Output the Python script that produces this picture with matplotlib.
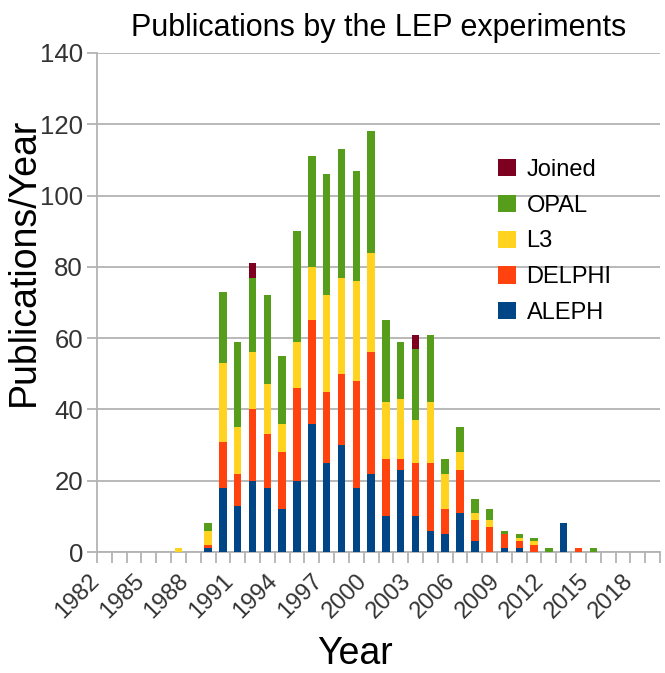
import matplotlib
matplotlib.use("Agg")
import matplotlib.pyplot as plt
import numpy as np
from matplotlib.ticker import MultipleLocator, FixedLocator

plt.rcParams['font.family'] = ['Liberation Sans', 'DejaVu Sans']

years = list(range(1982, 2020))
#            1982-1986      1987 ...                                                                                         ... 2019
aleph  = [0, 0, 0, 0, 0,  0, 0, 1, 18, 13, 20, 18, 12, 20, 36, 25, 30, 18, 22, 10, 23, 10, 6, 5, 11, 3, 0, 1, 1, 0, 0, 8, 0, 0, 0, 0, 0, 0]
delphi = [0, 0, 0, 0, 0,  0, 0, 1, 13, 9, 20, 15, 16, 26, 29, 20, 20, 30, 34, 16, 3, 15, 19, 7, 12, 6, 7, 4, 2, 2, 0, 0, 1, 0, 0, 0, 0, 0]
l3     = [0, 0, 0, 0, 0,  1, 0, 4, 22, 13, 16, 14, 8, 13, 15, 27, 27, 28, 28, 16, 17, 12, 17, 10, 5, 2, 2, 0, 1, 1, 0, 0, 0, 0, 0, 0, 0, 0]
opal   = [0, 0, 0, 0, 0,  0, 0, 2, 20, 24, 21, 25, 19, 31, 31, 34, 36, 31, 34, 23, 16, 20, 19, 4, 7, 4, 3, 1, 1, 1, 1, 0, 0, 1, 0, 0, 0, 0]
joined = [0, 0, 0, 0, 0,  0, 0, 0, 0, 0, 4, 0, 0, 0, 0, 0, 0, 0, 0, 0, 0, 4, 0, 0, 0, 0, 0, 0, 0, 0, 0, 0, 0, 0, 0, 0, 0, 0]

series = [("ALEPH", aleph, "#004586"), ("DELPHI", delphi, "#FF420E"),
          ("L3", l3, "#FFD320"), ("OPAL", opal, "#579D1C"), ("Joined", joined, "#7E0021")]
tick_years = list(range(1982, 2019, 3))

fig = plt.figure(figsize=(6.65, 6.73), dpi=100)
ax = fig.add_axes([97/665, 1-552/673, 563/665, 499/673])

x = np.array(years)
bottom = np.zeros(len(years))
handles = {}
for name, vals, col in series:
    v = np.array(vals, dtype=float)
    b = ax.bar(x, v, width=0.5, bottom=bottom, color=col, label=name, zorder=3, linewidth=0)
    handles[name] = b
    bottom += v

ax.set_xlim(years[0]-0.5, years[-1]+0.5)
ax.set_ylim(0, 140)
ax.yaxis.set_major_locator(MultipleLocator(20))
ax.grid(axis='y', color='#b3b3b3', linewidth=1.3, zorder=0)
ax.set_axisbelow(True)

for s in ['top', 'right']:
    ax.spines[s].set_visible(False)
for s in ['left', 'bottom']:
    ax.spines[s].set_color('#b3b3b3')
    ax.spines[s].set_linewidth(1.3)

ax.xaxis.set_major_locator(FixedLocator(tick_years))
ax.set_xticklabels([str(t) for t in tick_years], rotation=45, ha='right', va='top')
ax.xaxis.set_minor_locator(FixedLocator(np.arange(years[0]-0.5, years[-1]+1.0, 1.0)))
ax.tick_params(axis='x', which='major', length=0, pad=13, labelsize=17, labelcolor='#333333')
ax.tick_params(axis='x', which='minor', length=8, width=1.3, color='#b3b3b3')
ax.tick_params(axis='y', which='major', length=7, width=1.3, color='#b3b3b3', labelsize=18.5, labelcolor='#333333', pad=3)

ax.set_title("Publications by the LEP experiments", fontsize=22, pad=12)
ax.set_ylabel("Publications/Year", fontsize=27)
ax.yaxis.set_label_coords(-0.098, 0.581)
ax.set_xlabel("Year", fontsize=27)
ax.xaxis.set_label_coords(0.458, -0.168)

order = ["Joined", "OPAL", "L3", "DELPHI", "ALEPH"]
leg = ax.legend([handles[n] for n in order], order, loc='upper left',
                bbox_to_anchor=(0.675, 0.83), frameon=False, fontsize=17,
                handlelength=0.75, handleheight=0.75, handletextpad=0.45, labelspacing=0.58)

fig.savefig("out.png", dpi=100)
